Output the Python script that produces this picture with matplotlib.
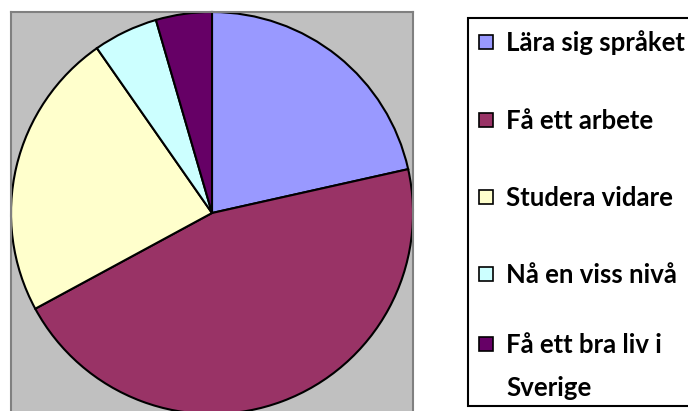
import matplotlib.pyplot as plt
from matplotlib.patches import Rectangle

labels = ['Lära sig språket', 'Få ett arbete', 'Studera vidare',
          'Nå en viss nivå', 'Få ett bra liv i\nSverige']
shares = [21.5, 45.6, 23.2, 5.2, 4.5]
colors = ['#9999FF', '#993366', '#FFFFCC', '#CCFFFF', '#660066']

W, H = 688, 411
fig = plt.figure(figsize=(W / 100, H / 100), dpi=100)

# plot area (grey box), pie fills its width, bottom runs off the image
ax = fig.add_axes([11 / W, -3 / H, 402 / W, 402 / H])
ax.pie(shares, colors=colors, startangle=90, counterclock=False,
       wedgeprops=dict(edgecolor='black', linewidth=1.5))
ax.set_frame_on(True)
ax.set_facecolor('#C0C0C0')
ax.set_xlim(-1, 1)
ax.set_ylim(-1, 1)
ax.set_aspect('auto')
ax.set_xticks([])
ax.set_yticks([])
for s in ax.spines.values():
    s.set_color('#808080')
    s.set_linewidth(1.5)
    s.set_visible(True)

# legend box, drawn by hand so the square sits on the first text line
fig.patches.append(Rectangle((468 / W, 1 - 406 / H), 240 / W, 388 / H,
                             transform=fig.transFigure, facecolor='white',
                             edgecolor='black', linewidth=1.5))
ys = [42, 120, 197, 274, 344]
for lab, c, y in zip(labels, colors, ys):
    fig.patches.append(Rectangle((479 / W, 1 - (y + 7) / H), 14 / W, 14 / H,
                                 transform=fig.transFigure, facecolor=c,
                                 edgecolor='black', linewidth=1.2))
    for k, line in enumerate(lab.split('\n')):
        fig.text(506 / W, 1 - (y + 9 + 43 * k) / H, line, fontsize=18.5,
                 fontweight='bold', family='Lato', va='baseline', ha='left')

fig.savefig('out.png', dpi=100)
